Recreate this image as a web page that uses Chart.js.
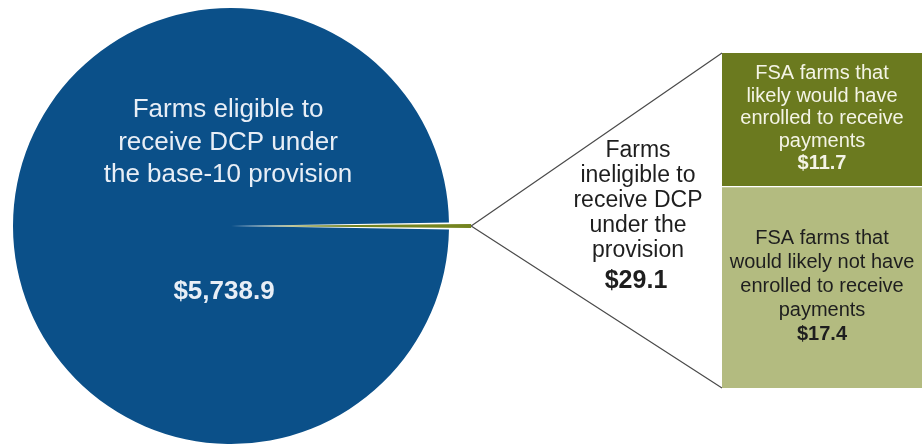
<!DOCTYPE html>
<html>
<head>
<meta charset="utf-8">
<script src="https://cdn.jsdelivr.net/npm/chart.js@4.4.1/dist/chart.umd.min.js"></script>
<style>
  html, body { margin: 0; padding: 0; background: #fff; }
  #wrap { position: relative; width: 922px; height: 446px; overflow: hidden; }
  #pieBox { position: absolute; left: 0; top: 0; width: 922px; height: 446px; }
  #barBox { position: absolute; left: 722px; top: 0; width: 200px; height: 446px; }
</style>
</head>
<body>
<div id="wrap">
  <div id="pieBox"><canvas id="pieChart"></canvas></div>
  <div id="barBox"><canvas id="barChart"></canvas></div>
</div>
<script>
// Data (million dollars)
const pieCategories = ['Farms ineligible to receive DCP under the provision', 'Farms eligible to receive DCP under the base-10 provision'];
const pieValues = [29.1, 5738.9];
const pieTexts = [
  ['Farms', 'ineligible to', 'receive DCP', 'under the', 'provision'],
  ['Farms eligible to', 'receive DCP under', 'the base-10 provision']
];
const barCategories = ['FSA farms that would likely not have enrolled to receive payments', 'FSA farms that likely would have enrolled to receive payments'];
const barValues = [17.4, 11.7];
const barTexts = [
  ['FSA farms that', 'would likely not have', 'enrolled to receive', 'payments'],
  ['FSA farms that', 'likely would have', 'enrolled to receive', 'payments']
];

const FONT = '"Liberation Sans", Arial, Helvetica, sans-serif';
const fmt = v => '$' + v.toLocaleString('en-US', { minimumFractionDigits: 1, maximumFractionDigits: 1 });

// Labels inside the stacked bar
const barTextPlugin = {
  id: 'barText',
  afterDatasetsDraw(chart) {
    const ctx = chart.ctx;
    const colors = ['#1e1e1e', '#f4f4e6'];
    const lineH = [24, 22.5];
    ctx.save();
    ctx.textAlign = 'center';
    chart.data.datasets.forEach((ds, i) => {
      const bar = chart.getDatasetMeta(i).data[0];
      const mid = (bar.y + bar.base) / 2;
      const lines = barTexts[i].concat([fmt(barValues[i])]);
      ctx.fillStyle = colors[i];
      lines.forEach((t, j) => {
        const last = j === lines.length - 1;
        ctx.font = (last ? 'bold ' : '') + '20px ' + FONT;
        ctx.fillText(t, bar.x, mid + 4 + (j - (lines.length - 1) / 2) * lineH[i]);
      });
    });
    ctx.restore();
  }
};

const barChart = new Chart(document.getElementById('barChart'), {
  type: 'bar',
  data: {
    labels: ['Ineligible'],
    datasets: [
      { label: barCategories[0], data: [barValues[0]], backgroundColor: '#b3bb80', borderWidth: 0 },
      { label: barCategories[1], data: [barValues[1]], backgroundColor: '#6b7a1f',
        borderColor: '#ffffff', borderWidth: { top: 0, left: 0, right: 0, bottom: 2 }, borderSkipped: false }
    ]
  },
  options: {
    responsive: true,
    maintainAspectRatio: false,
    animation: false,
    layout: { padding: { top: 53, bottom: 58, left: 0, right: 0 } },
    datasets: { bar: { categoryPercentage: 1, barPercentage: 1 } },
    scales: {
      x: { stacked: true, display: false },
      y: { stacked: true, display: false, min: 0, max: barValues[0] + barValues[1] }
    },
    plugins: { legend: { display: false }, tooltip: { enabled: false } }
  },
  plugins: [barTextPlugin]
});

// Pie labels and connector lines to the bar
const pieTextPlugin = {
  id: 'pieText',
  afterDraw(chart) {
    const ctx = chart.ctx;
    const arc = chart.getDatasetMeta(0).data[0];
    const off = chart.data.datasets[0].offset[0];
    const midA = (arc.startAngle + arc.endAngle) / 2;
    // same shift the arc element applies when drawing an offset slice
    const circ = arc.endAngle - arc.startAngle;
    const shift = off / 4 * (2 - Math.sin(Math.min(Math.PI, circ)));
    const tipX = arc.x + Math.cos(midA) * (arc.outerRadius + shift);
    const tipY = arc.y + Math.sin(midA) * (arc.outerRadius + shift);

    const barLeft = document.getElementById('barBox').offsetLeft;
    const topBar = barChart.getDatasetMeta(1).data[0];
    const bottomBar = barChart.getDatasetMeta(0).data[0];
    const bx = barLeft + topBar.x - topBar.width / 2;

    ctx.save();
    ctx.strokeStyle = '#4a4a4a';
    ctx.lineWidth = 1.2;
    ctx.beginPath();
    ctx.moveTo(tipX, tipY);
    ctx.lineTo(bx, topBar.y);
    ctx.moveTo(tipX, tipY);
    ctx.lineTo(bx, bottomBar.base);
    ctx.stroke();

    // big slice text
    ctx.textAlign = 'center';
    ctx.fillStyle = '#e8eef6';
    ctx.font = '26px ' + FONT;
    pieTexts[1].forEach((t, j) => ctx.fillText(t, arc.x - 3, 117 + j * 32.5));
    ctx.font = 'bold 26px ' + FONT;
    ctx.fillText(fmt(pieValues[1]), arc.x - 7, 299);

    // small slice text
    ctx.fillStyle = '#1e1e1e';
    ctx.font = '23px ' + FONT;
    pieTexts[0].forEach((t, j) => ctx.fillText(t, 638, 157 + j * 25));
    ctx.font = 'bold 25px ' + FONT;
    ctx.fillText(fmt(pieValues[0]), 636, 288);
    ctx.restore();
  }
};

const total = pieValues[0] + pieValues[1];
new Chart(document.getElementById('pieChart'), {
  type: 'pie',
  data: {
    labels: pieCategories,
    datasets: [{
      data: pieValues,
      backgroundColor: ['#74841f', '#0b5089'],
      borderWidth: 0,
      offset: [45, 0]
    }]
  },
  options: {
    responsive: true,
    maintainAspectRatio: false,
    animation: false,
    radius: 218,
    rotation: 90 - (pieValues[0] / total * 360) / 2,
    layout: { padding: { top: 6, bottom: 0, left: 0, right: 460 } },
    plugins: { legend: { display: false }, tooltip: { enabled: false } }
  },
  plugins: [pieTextPlugin]
});
</script>
</body>
</html>
